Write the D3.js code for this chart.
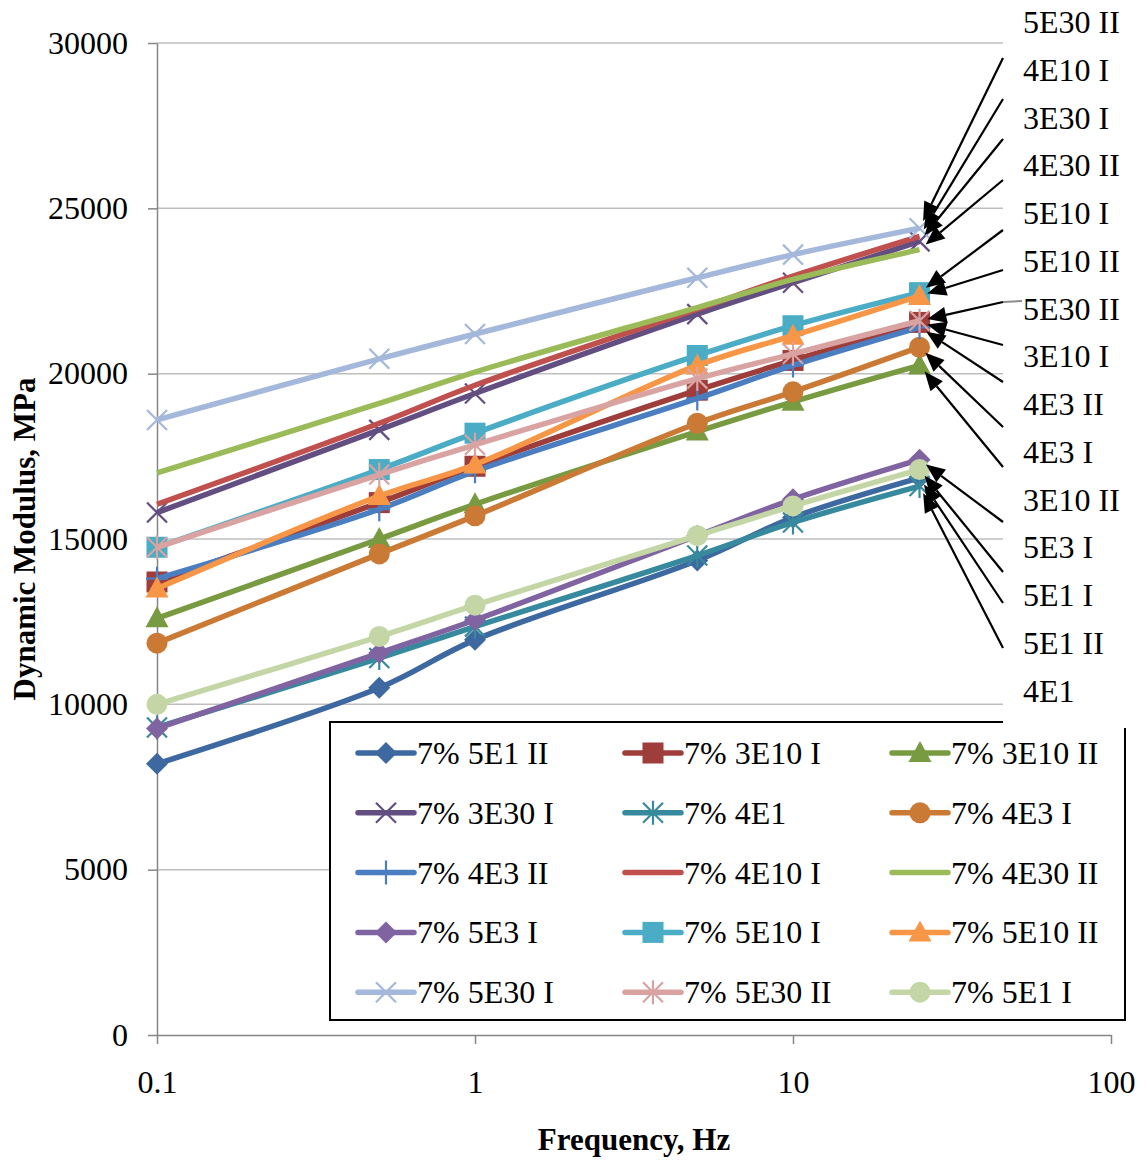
<!DOCTYPE html>
<html>
<head>
<meta charset="utf-8">
<script src="https://cdn.jsdelivr.net/npm/d3@7"></script>
<style>
  body { margin: 0; background: #fff; }
  svg { display: block; }
  text { font-family: "Liberation Serif", "Times New Roman", serif; fill: #000; }
</style>
</head>
<body>
<svg id="chart" width="1147" height="1161"></svg>
<script>
// Test frequencies (Hz)
const frequencies = [0.1, 0.5, 1, 5, 10, 25];

// Dynamic modulus (MPa) for each mixture, one value per frequency
const mod_5E1_II  = [8200, 10500, 11950, 14350, 15650, 16850];
const mod_3E10_I  = [13700, 16100, 17200, 19500, 20400, 21550];
const mod_3E10_II = [12600, 15000, 16050, 18250, 19150, 20250];
const mod_3E30_I  = [15800, 18300, 19400, 21800, 22750, 24000];
const mod_4E1     = [9300, 11400, 12350, 14500, 15500, 16600];
const mod_4E3_I   = [11850, 14550, 15700, 18500, 19450, 20800];
const mod_4E3_II  = [13800, 15900, 17050, 19250, 20250, 21400];
const mod_4E10_I  = [16050, 18500, 19650, 21950, 22950, 24150];
const mod_4E30_II = [17000, 19100, 20050, 22000, 22850, 23750];
const mod_5E3_I   = [9270, 11550, 12550, 15100, 16200, 17400];
const mod_5E10_I  = [14750, 17100, 18200, 20550, 21450, 22450];
const mod_5E10_II = [13500, 16300, 17250, 20250, 21150, 22350];
const mod_5E30_I  = [18600, 20450, 21200, 22900, 23600, 24400];
const mod_5E30_II = [14750, 16950, 17850, 19850, 20600, 21600];
const mod_5E1_I   = [10000, 12050, 13000, 15100, 16000, 17100];

const seriesNames = ["7% 5E1 II", "7% 3E10 I", "7% 3E10 II", "7% 3E30 I", "7% 4E1", "7% 4E3 I",
  "7% 4E3 II", "7% 4E10 I", "7% 4E30 II", "7% 5E3 I", "7% 5E10 I", "7% 5E10 II",
  "7% 5E30 I", "7% 5E30 II", "7% 5E1 I"];
const seriesValues = [mod_5E1_II, mod_3E10_I, mod_3E10_II, mod_3E30_I, mod_4E1, mod_4E3_I,
  mod_4E3_II, mod_4E10_I, mod_4E30_II, mod_5E3_I, mod_5E10_I, mod_5E10_II,
  mod_5E30_I, mod_5E30_II, mod_5E1_I];

const xTickValues = [0.1, 1, 10, 100];
const yTickValues = [0, 5000, 10000, 15000, 20000, 25000, 30000];

// Callout labels on the right and the series each arrow points at
const calloutLabels = ["5E30 II", "4E10 I", "3E30 I", "4E30 II", "5E10 I", "5E10 II", "5E30 II",
  "3E10 I", "4E3 II", "4E3 I", "3E10 II", "5E3 I", "5E1 I", "5E1 II", "4E1"];
const calloutTargets = ["7% 5E30 I", "7% 4E10 I", "7% 3E30 I", "7% 4E30 II", "7% 5E10 I", "7% 5E10 II",
  "7% 5E30 II", "7% 3E10 I", "7% 4E3 II", "7% 4E3 I", "7% 3E10 II", "7% 5E3 I", "7% 5E1 I",
  "7% 5E1 II", "7% 4E1"];

// ---- styling ----
const seriesStyle = {
  "7% 5E1 II":  { color: "#3D68A0", marker: "diamond" },
  "7% 3E10 I":  { color: "#9E3D3A", marker: "square" },
  "7% 3E10 II": { color: "#789A40", marker: "triangle" },
  "7% 3E30 I":  { color: "#634E82", marker: "x" },
  "7% 4E1":     { color: "#378A9E", marker: "asterisk" },
  "7% 4E3 I":   { color: "#CB7A35", marker: "circle" },
  "7% 4E3 II":  { color: "#4A7EC0", marker: "plus" },
  "7% 4E10 I":  { color: "#C0504D", marker: "none" },
  "7% 4E30 II": { color: "#9BBB59", marker: "none" },
  "7% 5E3 I":   { color: "#8064A2", marker: "diamond" },
  "7% 5E10 I":  { color: "#4BACC6", marker: "square" },
  "7% 5E10 II": { color: "#F79646", marker: "triangle" },
  "7% 5E30 I":  { color: "#A3B8DA", marker: "x" },
  "7% 5E30 II": { color: "#D9A3A2", marker: "asterisk" },
  "7% 5E1 I":   { color: "#C4D6A6", marker: "circle" }
};

const svg = d3.select("#chart");
const plot = { left: 157, right: 1111, top: 43, bottom: 1035 };

const x = d3.scaleLog().domain([0.1, 100]).range([plot.left, plot.right]);
const y = d3.scaleLinear().domain([0, 30000]).range([plot.bottom, plot.top]);

// gridlines
svg.append("g").selectAll("line")
  .data(yTickValues.filter(d => d > 0))
  .join("line")
  .attr("x1", plot.left).attr("x2", plot.right)
  .attr("y1", d => y(d)).attr("y2", d => y(d))
  .attr("stroke", "#BFBFBF").attr("stroke-width", 1.5);

// axes
const yAxis = svg.append("g")
  .attr("transform", `translate(${plot.left},0)`)
  .call(d3.axisLeft(y).tickValues(yTickValues).tickFormat(d => d).tickSize(9).tickSizeOuter(0).tickPadding(20));
const xAxis = svg.append("g")
  .attr("transform", `translate(0,${plot.bottom})`)
  .call(d3.axisBottom(x).tickValues(xTickValues).tickFormat(d => String(d)).tickSize(9).tickSizeOuter(0).tickPadding(26));
[yAxis, xAxis].forEach(g => {
  g.attr("font-family", null).attr("font-size", null);
  g.select(".domain").attr("stroke", "#868686").attr("stroke-width", 1.5);
  g.selectAll(".tick line").attr("stroke", "#868686").attr("stroke-width", 1.5);
  g.selectAll(".tick text").style("font-size", "32px").attr("fill", "#000");
});

// axis titles
svg.append("text")
  .attr("x", (plot.left + plot.right) / 2).attr("y", 1150)
  .attr("text-anchor", "middle")
  .style("font-size", "31px").style("font-weight", "bold")
  .text("Frequency, Hz");
svg.append("text")
  .attr("transform", `translate(35,${(plot.top + plot.bottom) / 2}) rotate(-90)`)
  .attr("text-anchor", "middle")
  .style("font-size", "31px").style("font-weight", "bold")
  .text("Dynamic Modulus, MPa");

// marker drawing
function drawMarker(g, type, color, cx, cy) {
  const s = 10;
  switch (type) {
    case "diamond":
      g.append("path").attr("d", `M${cx},${cy - 11}L${cx + 11},${cy}L${cx},${cy + 11}L${cx - 11},${cy}Z`).attr("fill", color);
      break;
    case "square":
      g.append("rect").attr("x", cx - 10.5).attr("y", cy - 10.5).attr("width", 21).attr("height", 21).attr("fill", color);
      break;
    case "triangle":
      g.append("path").attr("d", `M${cx},${cy - 12}L${cx + 11.5},${cy + 9}L${cx - 11.5},${cy + 9}Z`).attr("fill", color);
      break;
    case "circle":
      g.append("circle").attr("cx", cx).attr("cy", cy).attr("r", 10.5).attr("fill", color);
      break;
    case "x":
      g.append("path").attr("d", `M${cx - s},${cy - s}L${cx + s},${cy + s}M${cx - s},${cy + s}L${cx + s},${cy - s}`)
        .attr("stroke", color).attr("stroke-width", 2.2).attr("fill", "none");
      break;
    case "asterisk":
      g.append("path").attr("d", `M${cx - s},${cy - s}L${cx + s},${cy + s}M${cx - s},${cy + s}L${cx + s},${cy - s}M${cx},${cy - 12}L${cx},${cy + 12}`)
        .attr("stroke", color).attr("stroke-width", 2.2).attr("fill", "none");
      break;
    case "plus":
      g.append("path").attr("d", `M${cx - 11},${cy}L${cx + 11},${cy}M${cx},${cy - 12}L${cx},${cy + 12}`)
        .attr("stroke", color).attr("stroke-width", 2.2).attr("fill", "none");
      break;
  }
}

// series
const line = d3.line()
  .x(d => x(d.f)).y(d => y(d.v))
  .curve(d3.curveCatmullRom.alpha(0.5));

const seriesLayer = svg.append("g");
seriesNames.forEach((name, i) => {
  const st = seriesStyle[name];
  const pts = frequencies.map((f, k) => ({ f, v: seriesValues[i][k] }));
  const g = seriesLayer.append("g");
  g.append("path").datum(pts).attr("d", line)
    .attr("fill", "none").attr("stroke", st.color).attr("stroke-width", 5.5)
    .attr("stroke-linejoin", "round");
  pts.forEach(p => drawMarker(g, st.marker, st.color, x(p.f), y(p.v)));
});

// legend
const legend = svg.append("g");
legend.append("rect")
  .attr("x", 330).attr("y", 722).attr("width", 795).attr("height", 298)
  .attr("fill", "#fff").attr("stroke", "#000").attr("stroke-width", 2);
const legendColX = [358, 625, 892];
seriesNames.forEach((name, i) => {
  const st = seriesStyle[name];
  const lx = legendColX[i % 3];
  const ly = 753 + Math.floor(i / 3) * 59.8;
  const g = legend.append("g");
  g.append("line").attr("x1", lx).attr("x2", lx + 56).attr("y1", ly).attr("y2", ly)
    .attr("stroke", st.color).attr("stroke-width", 5.5).attr("stroke-linecap", "round");
  drawMarker(g, st.marker, st.color, lx + 28, ly);
  g.append("text").attr("x", lx + 59).attr("y", ly + 11)
    .style("font-size", "32px").text(name);
});

// callout panel
svg.append("rect").attr("x", 1003).attr("y", 0).attr("width", 144).attr("height", 728).attr("fill", "#fff");

const labelX = 1023;
const tailX = 1003;
const tailY = [58, 99, 139, 180, 230, 270, 302, 345, 382, 427, 467, 522, 572, 603, 648];
const callouts = svg.append("g");
calloutLabels.forEach((lab, i) => {
  callouts.append("text").attr("x", labelX).attr("y", 33 + i * 47.75)
    .style("font-size", "32px").text(lab);
});

const lastIdx = frequencies.length - 1;
calloutTargets.forEach((target, i) => {
  const si = seriesNames.indexOf(target);
  const px = x(frequencies[lastIdx]);
  const py = y(seriesValues[si][lastIdx]);
  const tx = tailX, ty = tailY[i];
  const dx = tx - px, dy = ty - py;
  const len = Math.hypot(dx, dy);
  const ux = dx / len, uy = dy / len;
  const hx = px + ux * 8, hy = py + uy * 8;          // arrow tip
  const bx = hx + ux * 19, by = hy + uy * 19;        // base of arrow head
  callouts.append("line").attr("x1", tx).attr("y1", ty).attr("x2", bx).attr("y2", by)
    .attr("stroke", "#000").attr("stroke-width", 2.2);
  callouts.append("path")
    .attr("d", `M${hx},${hy}L${bx - uy * 8},${by + ux * 8}L${bx + uy * 8},${by - ux * 8}Z`)
    .attr("fill", "#000");
  if (i === 6) {
    callouts.append("line").attr("x1", tx).attr("y1", ty).attr("x2", labelX - 1).attr("y2", ty - 1)
      .attr("stroke", "#8C8C8C").attr("stroke-width", 2);
  }
});
</script>
</body>
</html>
